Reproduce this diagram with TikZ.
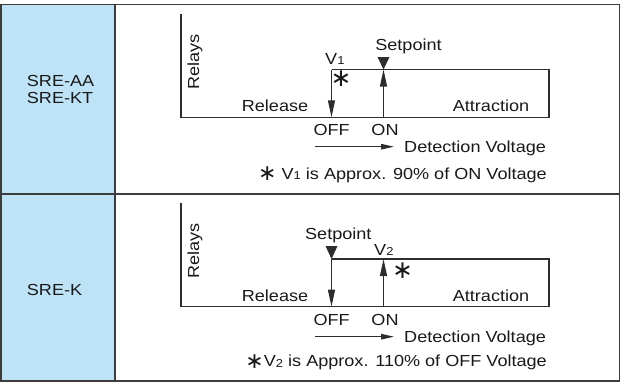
\documentclass[tikz,border=0pt]{standalone}
\usepackage{fontspec}
\setmainfont{Liberation Sans}[FakeStretch=1.13]
\newfontfamily\symfont{DejaVu Sans}
\usetikzlibrary{arrows.meta}
\definecolor{bluefill}{RGB}{190,227,247}
\definecolor{tablegray}{RGB}{60,60,60}
\definecolor{linegray}{RGB}{45,45,45}
\definecolor{txtcol}{RGB}{25,25,25}
\newcommand\subdig[1]{\raisebox{-0.6pt}{\fontsize{11.5}{11.5}\selectfont #1}}
\newcommand\astg{\raisebox{-1.6pt}{\symfont\fontsize{22}{22}\selectfont ∗}}
\tikzset{
  tableline/.style={draw=tablegray, line width=1.8pt},
  diagline/.style={draw=linegray, line width=1.2pt},
  longtip/.style={-{Triangle[length=17pt,width=7pt]}},
  shorttip/.style={-{Triangle[length=13pt,width=5.5pt]}},
  txt/.style={inner sep=0pt, text=txtcol, font=\fontsize{16}{19}\selectfont},
  astnode/.style={inner sep=0pt, text=txtcol, font=\symfont\fontsize{25}{25}\selectfont},
  setmark/.style={fill=linegray}
}
\begin{document}
\begin{tikzpicture}[x=1pt,y=-1pt]
\useasboundingbox (0,0) rectangle (621,383);
% table
\fill[bluefill] (0.9,4.5) rectangle (115.3,381);
\draw[tableline] (0.9,4.5) rectangle (619.5,381);
\draw[tableline] (115.3,4.5) -- (115.3,381);
\draw[tableline] (0.9,193.8) -- (619.5,193.8);
% row labels
\node[txt, anchor=base west] (sreaa) at (26.7,86) {SRE-AA};
\node[txt, anchor=base west] (srekt) at (26.7,103.3) {SRE-KT};
\node[txt, anchor=base west] (srek) at (26.7,295) {SRE-K};

% ---------- row 1 ----------
\coordinate (ytopA) at (181,13.5);
\coordinate (oA) at (181,117.3);
\coordinate (xendA) at (549,117.3);
\coordinate (boxtrA) at (549,69.5);
\coordinate (offtopA) at (331.5,69.5);
\coordinate (offbotA) at (331.5,117.3);
\coordinate (ontopA) at (383.5,69.5);
\coordinate (onbotA) at (383.5,117.3);
\coordinate (detsA) at (315,146.7);
\coordinate (deteA) at (394,146.7);
\draw[diagline] (ytopA) -- (oA) -- (xendA) -- (boxtrA) -- (offtopA);
\draw[diagline, longtip] (offtopA) -- (offbotA);
\draw[diagline, longtip] (onbotA) -- (ontopA);
\fill[setmark] (377.5,57) -- (389.5,57) -- (ontopA) -- cycle;
\draw[diagline, shorttip] (detsA) -- (deteA);
\node[txt, anchor=base] (setA) at (408.5,50.7) {Setpoint};
\node[txt, anchor=base west] (vA) at (325,64.3) {V\subdig{1}};
\node[astnode] (astA) at (341,78.5) {∗};
\node[txt, rotate=90, anchor=base] (relA) at (199,61.7) {Relays};
\node[txt, anchor=base] (releaseA) at (275,111.7) {Release};
\node[txt, anchor=base] (attrA) at (491,111.7) {Attraction};
\node[txt, anchor=base] (offA) at (331.7,135) {OFF};
\node[txt, anchor=base] (onA) at (385,135) {ON};
\node[txt, anchor=base west] (detA) at (404,152) {Detection Voltage};
\node[txt, anchor=base east] (fnA) at (547,179) {\astg\ V\subdig{1} is Approx. 90\% of ON Voltage};

% ---------- row 2 ----------
\coordinate (ytopB) at (181,203.3);
\coordinate (oB) at (181,306.7);
\coordinate (xendB) at (549,306.7);
\coordinate (boxtrB) at (549,259);
\coordinate (offtopB) at (331.5,259);
\coordinate (offbotB) at (331.5,306.7);
\coordinate (ontopB) at (383.5,259);
\coordinate (onbotB) at (383.5,306.7);
\coordinate (detsB) at (315,336.7);
\coordinate (deteB) at (394,336.7);
\draw[diagline] (ytopB) -- (oB) -- (xendB) -- (boxtrB) -- (offtopB);
\draw[diagline, longtip] (offtopB) -- (offbotB);
\draw[diagline, longtip] (onbotB) -- (ontopB);
\fill[setmark] (325.5,246) -- (337.5,246) -- (offtopB) -- cycle;
\draw[diagline, shorttip] (detsB) -- (deteB);
\node[txt, anchor=base east] (setB) at (371.7,239.3) {Setpoint};
\node[txt, anchor=base west] (vB) at (374,255) {V\subdig{2}};
\node[astnode] (astB) at (402.5,271) {∗};
\node[txt, rotate=90, anchor=base] (relB) at (199,251) {Relays};
\node[txt, anchor=base] (releaseB) at (275,301) {Release};
\node[txt, anchor=base] (attrB) at (491,301.5) {Attraction};
\node[txt, anchor=base] (offB) at (331.7,325) {OFF};
\node[txt, anchor=base] (onB) at (385,325) {ON};
\node[txt, anchor=base west] (detB) at (404,342) {Detection Voltage};
\node[txt, anchor=base east] (fnB) at (547,366.7) {\astg V\subdig{2} is Approx. 110\% of OFF Voltage};
\end{tikzpicture}
\end{document}
